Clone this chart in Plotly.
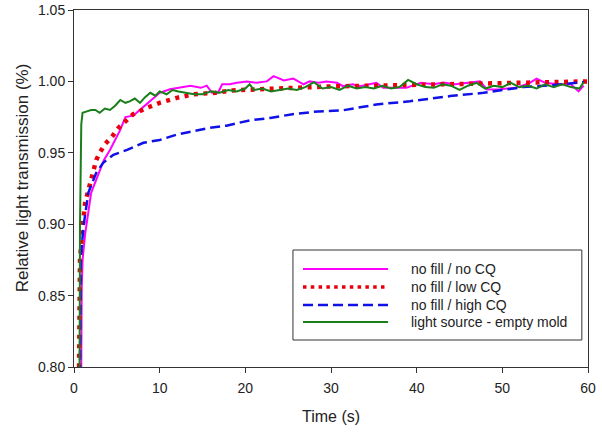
import plotly.graph_objects as go

# ---- data ----
green_t = [0.6, 0.7, 0.85, 1.0, 1.5, 2.0, 2.5, 3.0, 3.6, 4.2, 4.8, 5.4, 6.0, 6.5, 7.1, 7.7, 8.3, 8.9, 9.5,
           10.0, 10.8, 11.5, 12.2, 13, 14, 15, 16, 17, 18, 19, 20, 20.5, 21, 22, 23, 24, 25, 26, 27, 28, 29,
           30, 31, 32, 33, 34, 35, 36, 37, 38, 39, 40, 41, 42, 43, 44, 45, 46, 47, 48, 49, 50, 51, 52, 53,
           54, 55, 56, 57, 58, 59, 59.5]
green_v = [0.70, 0.90, 0.970, 0.978, 0.979, 0.980, 0.980, 0.978, 0.981, 0.980, 0.983, 0.987, 0.985, 0.986,
           0.988, 0.985, 0.989, 0.992, 0.990, 0.993, 0.991, 0.994, 0.993, 0.992, 0.991, 0.991, 0.993, 0.992,
           0.994, 0.993, 0.995, 0.998, 0.994, 0.995, 0.993, 0.994, 0.995, 0.994, 0.996, 0.9995, 0.995,
           0.996, 0.994, 0.997, 0.995, 0.996, 0.995, 0.997, 0.995, 0.996, 1.001, 0.998, 0.996, 0.9955,
           0.998, 0.997, 0.994, 0.997, 0.999, 0.995, 0.997, 0.996, 0.999, 0.996, 0.997, 0.995, 0.998,
           0.996, 0.998, 0.996, 0.995, 0.9995]

magenta_t = [0.75, 0.8, 0.9, 1.0, 1.3, 2.0, 3.0, 3.5, 4.2, 5.0, 5.4, 6.0, 6.9, 7.5, 8.5, 9.3, 10.0, 11.2,
             12.4, 13.6, 14.8, 15.5, 16.1, 16.8, 17.3, 18.2, 19.0, 20.2, 21.3, 22.5, 23.3, 24.5, 25.6,
             26.8, 27.5, 28.5, 29.5, 30.7, 31.4, 32.5, 33.4, 34.5, 35.3, 36.1, 37.5, 38.8, 39.5, 40.5,
             42, 43.1, 44.5, 46, 47.4, 48.2, 49.7, 51.6, 53.2, 54.0, 55.0, 56.5, 58.0, 58.9, 59.5]
magenta_v = [0.70, 0.82, 0.855, 0.875, 0.893, 0.922, 0.937, 0.945, 0.952, 0.962, 0.966, 0.975, 0.976,
             0.979, 0.984, 0.988, 0.992, 0.9945, 0.996, 0.997, 0.9955, 0.997, 0.992, 0.992, 0.998,
             0.998, 0.999, 1.000, 0.999, 1.000, 1.0037, 1.0007, 1.002, 0.998, 1.000, 0.999, 1.000,
             0.999, 0.9967, 0.998, 0.9967, 0.998, 0.999, 0.9955, 0.9955, 0.9955, 0.997, 0.999, 0.998,
             0.9993, 0.998, 0.999, 1.000, 0.9944, 0.9945, 0.9955, 0.999, 1.002, 0.999, 0.998, 0.998,
             0.993, 0.997]

red_t = [0.45, 0.58, 0.6, 0.7, 1.0, 1.3, 1.6, 2.25, 2.6, 3.0, 3.6, 4.4, 5.2, 6.0, 6.9, 8.5, 10, 12, 14,
         16.5, 18.5, 21.3, 25.4, 30, 35, 40, 45, 50, 55, 60]
red_v = [0.70, 0.80, 0.85, 0.875, 0.898, 0.915, 0.922, 0.938, 0.945, 0.950, 0.956, 0.961, 0.9675, 0.972,
         0.977, 0.9815, 0.985, 0.9885, 0.991, 0.992, 0.9937, 0.9944, 0.9956, 0.9965, 0.997, 0.9975,
         0.998, 0.9985, 0.999, 1.000]

blue_t = [0.6, 0.7, 0.78, 1.1, 1.67, 2.6, 3.4, 4.6, 6.2, 8.1, 10, 12, 13.9, 15.9, 17.8, 20.5, 22.9, 25.5,
          28.5, 31.4, 35.3, 39.2, 43.9, 47.8, 50.1, 52.4, 55.6, 59.5]
blue_v = [0.70, 0.849, 0.875, 0.898, 0.922, 0.936, 0.943, 0.9486, 0.952, 0.957, 0.959, 0.9627, 0.965,
          0.9676, 0.969, 0.9727, 0.9744, 0.977, 0.979, 0.9798, 0.9838, 0.9861, 0.9897, 0.992, 0.994,
          0.996, 0.9972, 0.9995]

names = ["no fill / no CQ", "no fill / low CQ", "no fill / high CQ", "light source - empty mold"]
x_ticks = [0, 10, 20, 30, 40, 50, 60]
y_ticks = [0.80, 0.85, 0.90, 0.95, 1.00, 1.05]

FONT = "Arial, Liberation Sans, sans-serif"
styles = [
    dict(color="#FF00FF", width=2),
    dict(color="#E8000B", width=4.5, dash="4px,5.5px"),
    dict(color="#1010E8", width=2.5, dash="10px,5px"),
    dict(color="#1A7F1A", width=2),
]
legend_styles = [
    dict(color="#FF00FF", width=2),
    dict(color="#E8000B", width=3.5, dash="3.5px,4.3px"),
    dict(color="#1010E8", width=2.5, dash="10px,5px"),
    dict(color="#1A7F1A", width=2),
]
series = [(magenta_t, magenta_v), (red_t, red_v), (blue_t, blue_v), (green_t, green_v)]

fig = go.Figure()
for (tx, vy), nm, st in zip(series, names, styles):
    fig.add_trace(go.Scatter(x=tx, y=vy, mode="lines", name=nm, line=st, showlegend=False))

# custom legend (box, samples, labels) in paper coordinates
shapes = [dict(type="rect", xref="paper", yref="paper", x0=0.426, x1=0.988, y0=0.0756, y1=0.3277,
               line=dict(color="#333", width=1), fillcolor="white", layer="above")]
annotations = []
row_y = [0.2745, 0.224, 0.1737, 0.126]
for nm, st, ry in zip(names, legend_styles, row_y):
    shapes.append(dict(type="line", xref="paper", yref="paper", x0=0.4455, x1=0.611, y0=ry, y1=ry,
                       line=st, layer="above"))
    annotations.append(dict(xref="paper", yref="paper", x=0.652, y=ry, text=nm, showarrow=False,
                            xanchor="left", yanchor="middle", font=dict(family=FONT, size=14, color="#222")))

# y-axis title as annotation so it can sit slightly above plot centre like the reference
annotations.append(dict(xref="paper", yref="paper", x=-0.101, y=0.529, text="Relative light transmission (%)",
                        textangle=-90, showarrow=False, xanchor="center", yanchor="middle",
                        font=dict(family=FONT, size=17, color="#222")))

fig.update_layout(
    width=602, height=432,
    margin=dict(l=74, r=14, t=10, b=65, autoexpand=False),
    paper_bgcolor="white", plot_bgcolor="white",
    font=dict(family=FONT, size=14, color="#222"),
    showlegend=False,
    shapes=shapes, annotations=annotations,
    xaxis=dict(range=[0, 60], tickvals=x_ticks, ticks="outside", ticklen=5, tickcolor="#333",
               showline=True, linecolor="#333", linewidth=1, mirror=True, showgrid=False,
               zeroline=False, automargin=False, ticklabelstandoff=3,
               title=dict(text="Time (s)", font=dict(size=16), standoff=16),
               tickfont=dict(size=14)),
    yaxis=dict(range=[0.80, 1.05], tickvals=y_ticks, tickformat=".2f", ticks="outside", ticklen=5,
               tickcolor="#333", showline=True, linecolor="#333", linewidth=1, mirror=True,
               showgrid=False, zeroline=False, automargin=False,
               tickfont=dict(size=14)),
)

# remove the browser's default 8px body margin so the 602x432 figure fills the window
fig.write_html("out.html", config={"displayModeBar": False},
               post_script="document.body.style.margin='0px';")
